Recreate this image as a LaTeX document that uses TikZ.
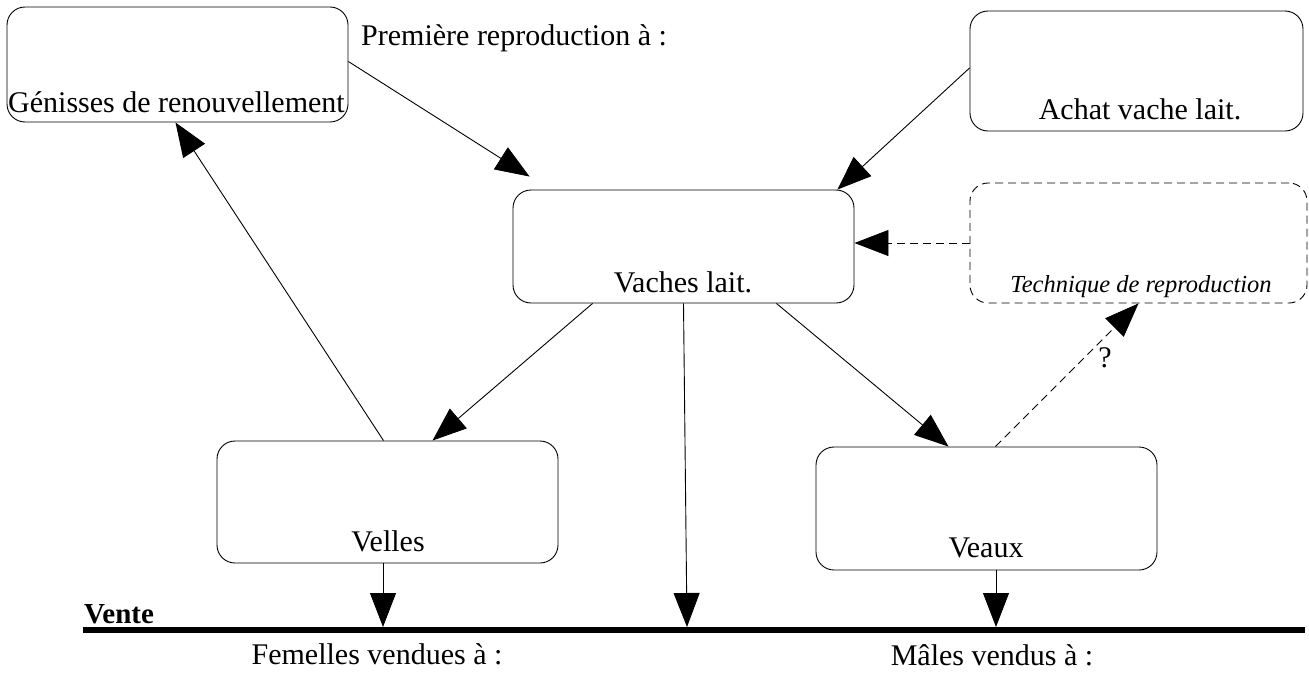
\documentclass[tikz,border=0pt]{standalone}
\usepackage{fontspec}
\setmainfont{Liberation Serif}
\usepackage{tikz}
\usetikzlibrary{arrows.meta}
\usetikzlibrary{calc}
\usetikzlibrary{positioning}

\tikzset{
  boite/.style={draw, rounded corners=18pt, line width=0.9pt, inner sep=0pt},
  pointille/.style={dash pattern=on 8pt off 5pt},
  fleche/.style={line width=0.9pt, -{Triangle[length=34pt,width=26pt]}},
  texte/.style={inner sep=0pt, anchor=base, font=\fontsize{30}{36}\selectfont}
}

\begin{document}
\begin{tikzpicture}[x=1pt,y=-1pt]
  \useasboundingbox (0,0) rectangle (1309,672);
  % Boites
  \node[boite, minimum width=341pt, minimum height=115pt] (gen) at (177.5,64.5) {};
  \node[boite, minimum width=333pt, minimum height=120pt] (ach) at (1136.5,71) {};
  \node[boite, minimum width=341pt, minimum height=113pt] (vach) at (683.5,246.5) {};
  \node[boite, pointille, minimum width=337pt, minimum height=120pt] (tech) at (1138.5,243) {};
  \node[boite, minimum width=341pt, minimum height=122pt] (velles) at (387.5,502) {};
  \node[boite, minimum width=341pt, minimum height=123pt] (veaux) at (986.5,508.5) {};

  % Textes
  \node[texte] (gentxt) at (176.5,112) {Génisses de renouvellement};
  \node[texte, anchor=base west] (premtxt) at (361,45) {Première reproduction à :};
  \node[texte] (achtxt) at (1140,119) {Achat vache lait.};
  \node[texte] (vachtxt) at (683,292) {Vaches lait.};
  \node[texte, font=\fontsize{24.5}{30}\selectfont\itshape] (techtxt) at (1141,292) {Technique de reproduction};
  \node[texte] (vellestxt) at (388,551) {Velles};
  \node[texte] (veauxtxt) at (986,557) {Veaux};
  \node[texte] (quest) at (1105,367) {?};

  % Vente
  \coordinate (venteG) at (83,630);
  \coordinate (venteD) at (1305,630);
  \draw[line width=6pt] (venteG) -- (venteD);
  \node[texte, anchor=base west, font=\fontsize{29}{34}\selectfont\bfseries] (vente) at (84,623) {Vente};
  \node[texte] (femtxt) at (377,664) {Femelles vendues à :};
  \node[texte] (maltxt) at (992,665) {Mâles vendus à :};
  \coordinate (fem) at (383,627);
  \coordinate (vac) at (687,627);
  \coordinate (mal) at (996,627);

  % Fleches
  \draw[fleche] ($(gen.north east)+(0,55)$) -- ($(vach.north west)+(17,-13)$);
  \draw[fleche] ($(ach.west)+(0,-3)$) -- ($(vach.north east)+(-17,0)$);
  \draw[fleche, pointille] (tech.west) -- (tech.west -| vach.east);
  \draw[fleche] ($(vach.south west)+(80,0)$) -- ($(velles.north)+(45,0)$);
  \draw[fleche] (vach.south) -- (vac);
  \draw[fleche] ($(vach.south east)+(-78,0)$) -- ($(veaux.north)+(-38,0)$);
  \draw[fleche, pointille] ($(veaux.north)+(9,0)$) -- (tech.south);
  \draw[fleche] ($(velles.north)+(-4,0)$) -- ($(gen.south)+(-2,0)$);
  \draw[fleche] (fem |- velles.south) -- (fem);
  \draw[fleche] (mal |- veaux.south) -- (mal);
\end{tikzpicture}
\end{document}
